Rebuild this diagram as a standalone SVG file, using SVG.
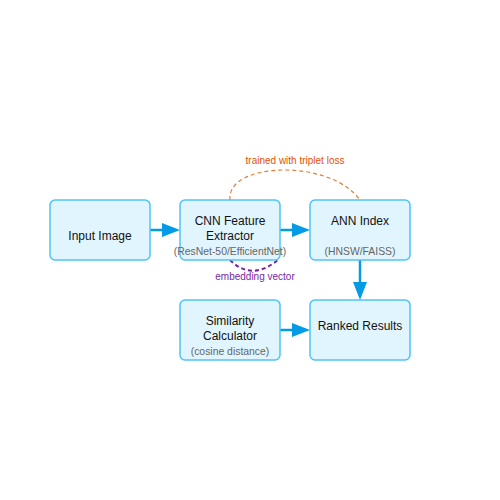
<svg xmlns="http://www.w3.org/2000/svg" width="500" height="500" viewBox="0 0 500 500">
<defs>
<style>
.box{fill:#e1f5fe;stroke:#4fc3f7;stroke-width:1.5}
.t{font-family:"Liberation Sans",Arial,sans-serif;font-size:12px;fill:#111;text-anchor:middle}
.s{font-family:"Liberation Sans",Arial,sans-serif;font-size:10.4px;fill:#666;text-anchor:middle}
.e{stroke:#039be5;stroke-width:2.5;fill:none}
</style>
</defs>
<rect width="500" height="500" fill="#fff"/>
<g id="connectors">
<line class="e" x1="150" y1="230" x2="163" y2="230"/>
<path d="M162,223 L180,230 L162,237 Z" fill="#039be5"/>
<line class="e" x1="280" y1="230" x2="293" y2="230"/>
<path d="M292,223 L310,230 L292,237 Z" fill="#039be5"/>
<line class="e" x1="360" y1="260" x2="360" y2="283"/>
<path d="M353,282 L360,300 L367,282 Z" fill="#039be5"/>
<line class="e" x1="280" y1="330" x2="293" y2="330"/>
<path d="M292,323 L310,330 L292,337 Z" fill="#039be5"/>
<path d="M230,200 C226,162 330,158 360,200" fill="none" stroke="#e67e3a" stroke-width="1.2" stroke-dasharray="4,3"/>
<text x="295" y="164" style="font-family:'Liberation Sans',Arial,sans-serif;font-size:10px;fill:#e65100;text-anchor:middle">trained with triplet loss</text>
<path d="M230,260 Q252,282 279,259" fill="none" stroke="#7b1fa2" stroke-width="2" stroke-dasharray="4,3"/>
<text x="255" y="280" style="font-family:'Liberation Sans',Arial,sans-serif;font-size:10px;fill:#7b1fa2;text-anchor:middle">embedding vector</text>
</g>
<g id="input">
<rect class="box" x="50" y="200" width="100" height="60" rx="5"/>
<text class="t" x="100" y="240">Input Image</text>
</g>
<g id="cnn">
<rect class="box" x="180" y="200" width="100" height="60" rx="5"/>
<text class="t" x="230" y="225">CNN Feature</text>
<text class="t" x="230" y="240">Extractor</text>
<text class="s" x="230" y="255">(ResNet-50/EfficientNet)</text>
</g>
<g id="ann">
<rect class="box" x="310" y="200" width="100" height="60" rx="5"/>
<text class="t" x="360" y="225">ANN Index</text>
<text class="s" x="360" y="255">(HNSW/FAISS)</text>
</g>
<g id="similarity">
<rect class="box" x="180" y="300" width="100" height="60" rx="5"/>
<text class="t" x="230" y="325">Similarity</text>
<text class="t" x="230" y="340">Calculator</text>
<text class="s" x="230" y="355">(cosine distance)</text>
</g>
<g id="ranked">
<rect class="box" x="310" y="300" width="100" height="60" rx="5"/>
<text class="t" x="360" y="330">Ranked Results</text>
</g>
</svg>
